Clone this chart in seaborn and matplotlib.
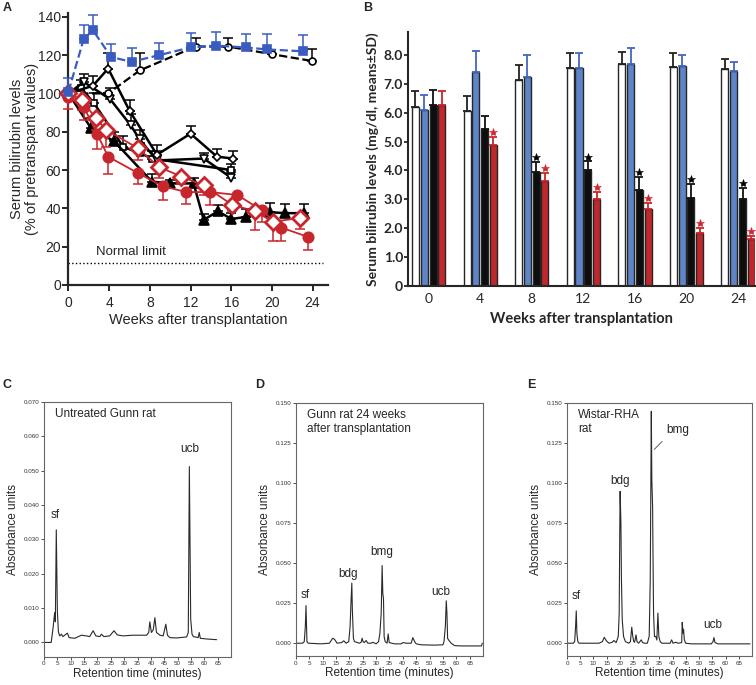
import numpy as np
import pandas as pd
import matplotlib
matplotlib.use("Agg")
import matplotlib.pyplot as plt
import seaborn as sns

# ---------------- panel A: serum bilirubin, % of pretransplant value ----------------
blue_wk = [0, 1.5, 2.4, 4.2, 6.2, 8.9, 12.0, 14.5, 17.5, 19.5, 23.1]
blue_val = [101, 128.5, 133, 119, 116.5, 120, 124, 125, 124, 123, 122]
blue_err = [7, 7, 8, 7, 7, 6.5, 7.5, 7, 7, 8, 8.5]

circ_wk = [0, 3.9, 7.0, 12.5, 15.7, 20.0, 23.9]
circ_val = [100, 100, 112, 124.5, 124.5, 120.5, 117]
circ_err = [0, 0, 9, 4.5, 4.5, 0, 6]

dia_wk = [0, 2.4, 3.9, 6.0, 8.7, 12.0, 14.6, 16.2]
dia_val = [100, 104, 113, 91, 68, 79, 67, 66]
dia_err = [0, 5, 8, 5.5, 5, 4, 4, 4]

tri_wk = [0, 1.5, 4.1, 6.1, 7.0, 8.7, 13.3, 16.0]
tri_val = [100, 106, 97, 83.5, 76, 65, 66, 56]
tri_err = [0, 4, 6, 6, 5, 5, 3, 3]

sq_wk = [0, 1.2, 2.5, 5.4, 7.0, 8.2, 16.0]
sq_val = [100, 103, 95, 72, 69, 66, 60]
sq_err = [0, 4, 5, 6, 5, 4, 3]

ftri_wk = [0, 2.2, 4.5, 8.2, 10.0, 12.3, 13.3, 14.7, 16.0, 17.5, 19.8, 21.3, 23.2]
ftri_val = [100, 82, 75, 54, 53, 53, 34, 38.5, 34.5, 35.5, 38, 37.5, 37.5]
ftri_err = [0, 5, 5, 4, 2, 3, 3, 3, 3, 4, 5, 5, 5]

rcirc_wk = [0, 1.5, 2.8, 3.9, 6.8, 9.3, 11.6, 13.9, 16.6, 19.0, 20.9, 23.6]
rcirc_val = [98, 93, 79, 67, 58.5, 51.5, 48.5, 48.5, 47, 39, 30, 25]
rcirc_err = [6, 7, 8, 9, 6, 7, 6, 7, 6, 6, 7, 7]

rdia_wk = [0, 1.3, 2.7, 3.7, 6.8, 8.9, 11.1, 13.3, 16.1, 18.3, 20.1, 22.8]
rdia_val = [100, 96.5, 87, 81, 71.5, 61.6, 56.6, 52, 41.8, 38.6, 33, 35]
rdia_err = [0, 5, 6, 9, 6, 6, 4, 5, 3, 10, 10, 6]

normal_limit = 11.5

# ---------------- panel B: serum bilirubin, mg/dl ----------------
weeks = ['0', '4', '8', '12', '16', '20', '24']
white_mean = [6.2, 6.05, 7.13, 7.55, 7.67, 7.57, 7.5]
white_sd = [0.55, 0.52, 0.52, 0.5, 0.43, 0.48, 0.34]
blue_mean = [6.1, 7.4, 7.24, 7.55, 7.67, 7.62, 7.44]
blue_sd = [0.5, 0.73, 0.76, 0.52, 0.55, 0.37, 0.32]
black_mean = [6.25, 5.45, 3.96, 4.01, 3.32, 3.03, 3.01]
black_sd = [0.55, 0.43, 0.34, 0.3, 0.46, 0.49, 0.37]
red_mean = [6.25, 4.87, 3.64, 3.0, 2.65, 1.82, 1.62]
red_sd = [0.5, 0.3, 0.26, 0.24, 0.21, 0.2, 0.11]
black_star = [False, False, True, True, True, True, True]
red_star = [False, True, True, True, True, True, True]

# ---------------- panels C-E: HPLC traces (minutes, absorbance) ----------------
trace_c = [(0, 0), (2.7, 0), (3.4, 0.0043), (4.0, 0.0087), (4.25, 0.006), (4.6, 0.0328),
           (5.0, 0.009), (5.4, 0.003), (5.9, 0.0019), (6.5, 0.0024), (7.1, 0.0017),
           (8.75, 0.0027), (9.4, 0.0014), (11.5, 0.0012), (14.0, 0.0021), (15.9, 0.0019),
           (17.1, 0.0017), (18.4, 0.0034), (19.4, 0.0019), (20.9, 0.0017), (21.5, 0.0024),
           (22.4, 0.0017), (24.6, 0.0019), (26.2, 0.0034), (27.4, 0.0022), (29.6, 0.0019),
           (33.4, 0.0021), (38.4, 0.0021), (39.2, 0.0029), (39.6, 0.006), (40.2, 0.0029),
           (40.9, 0.0037), (41.5, 0.0072), (42.1, 0.0029), (43.4, 0.0021), (44.6, 0.0019),
           (45.6, 0.0053), (46.2, 0.0021), (47.1, 0.0014), (49.6, 0.0013), (53.4, 0.0016),
           (54.0, 0.0029), (54.4, 0.0512), (54.9, 0.0068), (55.4, 0.0024), (55.9, 0.0017),
           (57.7, 0.0014), (58.1, 0.0029), (58.5, 0.0012), (60.9, 0.001), (64.6, 0.0008)]

trace_d = [(0, 0), (2.5, 0), (3.1, 0.001), (3.5, 0.0104), (3.75, 0.0235), (4.1, 0.001),
           (4.6, 0), (9.4, -0.0004), (12.5, 0), (13.75, 0.0031), (14.4, 0.0025), (15.4, 0),
           (17.1, 0.0004), (17.9, 0.0015), (18.75, 0), (19.75, 0.001), (20.25, 0.0104),
           (20.6, 0.026), (20.9, 0.0375), (21.1, 0.021), (21.5, 0.003), (21.9, 0.001),
           (23.75, 0), (24.4, 0.0006), (24.75, 0.0031), (25.1, 0.001), (25.6, 0.0004),
           (26.25, 0.0017), (26.9, 0), (28.1, 0), (28.75, 0.0006), (30.0, -0.0004),
           (30.9, 0.001), (31.4, 0.006), (31.9, 0.0187), (32.25, 0.0485), (32.5, 0.031),
           (32.75, 0.028), (33.0, 0.004), (33.4, 0.001), (34.1, 0), (34.5, 0.0058),
           (34.9, 0.0004), (36.9, -0.0004), (39.4, -0.0004), (40.0, 0.0004), (41.25, 0),
           (43.1, 0), (43.75, 0.0035), (44.4, 0.001), (45.0, -0.0004), (46.9, -0.001),
           (51.9, -0.0012), (55.0, -0.001), (55.4, 0.001), (55.9, 0.0104), (56.25, 0.0265),
           (56.5, 0.0187), (56.75, 0.003), (57.25, 0.0017), (58.1, 0), (59.4, -0.0015),
           (61.9, -0.0017), (69.4, -0.0017), (69.75, 0)]

trace_e = [(0, 0), (2.4, 0), (2.9, 0.001), (3.25, 0.0104), (3.5, 0.0202), (3.75, 0.006),
           (4.1, 0.001), (4.6, 0), (12.1, 0), (13.4, 0.001), (14.1, 0.0037), (14.9, 0.0015),
           (15.9, 0), (17.1, 0.0006), (17.75, 0.0017), (18.6, 0.0004), (19.4, 0.0042),
           (19.75, 0.0188), (20.0, 0.0771), (20.1, 0.0948), (20.4, 0.075), (20.6, 0.0396),
           (20.9, 0.0146), (21.4, 0.0042), (22.1, 0.001), (23.4, 0), (24.0, 0.001),
           (24.5, 0.01), (24.9, 0.0042), (25.25, 0.001), (25.6, 0.0006), (26.1, 0.0052),
           (26.5, 0.001), (27.1, 0), (28.1, 0.0021), (28.6, 0.0004), (29.4, 0), (30.4, 0),
           (31.1, 0.0042), (31.5, 0.0396), (31.9, 0.1448), (32.1, 0.102), (32.4, 0.085),
           (32.5, 0.0625), (32.75, 0.0187), (33.1, 0.0042), (33.6, 0.0042), (34.0, 0.002),
           (34.4, 0.0188), (34.75, 0.0042), (35.25, 0.001), (35.9, 0), (39.0, 0),
           (39.6, 0.0021), (40.1, 0), (41.1, 0.0006), (42.1, 0), (43.4, 0.0004),
           (43.6, 0.013), (43.9, 0.0063), (44.1, 0.0087), (44.4, 0.0021), (44.9, 0),
           (47.1, -0.0004), (54.6, -0.0004), (55.25, 0.001), (55.6, 0.0035), (56.0, 0.0004),
           (57.1, -0.0004), (69.25, -0.0004)]

BLUE = '#3a5cc0'
RED = '#c8262d'

sns.set_theme(style="ticks")
plt.rcParams['font.family'] = ['Liberation Sans', 'DejaVu Sans']

fig = plt.figure(figsize=(7.56, 6.85), dpi=100)


def no_clip(container):
    for art in container.get_children():
        art.set_clip_on(False)


def series(ax, wk, val, err, color, marker, ms, mfc, ls='-', lw=1.8, mew=1.2, down=False, z=3):
    zeros = np.zeros(len(err))
    yerr = [err, zeros] if down else [zeros, err]
    eb = ax.errorbar(wk, val, yerr=yerr, fmt='none', ecolor=color, elinewidth=1.1,
                     capsize=3.5, capthick=1.1, zorder=z)
    no_clip(eb)
    sns.lineplot(x=wk, y=val, ax=ax, color=color, linestyle=ls, lw=lw, marker=marker,
                 markersize=ms, markerfacecolor=mfc, markeredgecolor=color,
                 markeredgewidth=mew, estimator=None, sort=False, clip_on=False, zorder=z + 0.5)


# ---------------- A ----------------
ax = fig.add_axes([0.0906, 0.584, 0.343, 0.397])
series(ax, sq_wk, sq_val, sq_err, 'black', 's', 5, 'white', z=3)
series(ax, tri_wk, tri_val, tri_err, 'black', 'v', 6, 'white', z=3)
series(ax, dia_wk, dia_val, dia_err, 'black', 'D', 4.5, 'white', z=3)
series(ax, ftri_wk, ftri_val, ftri_err, 'black', '^', 6.5, 'black', z=3)
series(ax, circ_wk, circ_val, circ_err, 'black', 'o', 5, 'white', ls='--', lw=1.6, z=3)
series(ax, rcirc_wk, rcirc_val, rcirc_err, RED, 'o', 7.5, RED, lw=1.3, down=True, z=4)
series(ax, rdia_wk, rdia_val, rdia_err, RED, 'D', 8, 'white', lw=1.3, mew=2, down=True, z=4)
series(ax, blue_wk, blue_val, blue_err, BLUE, 's', 6, BLUE, ls='--', lw=1.6, z=5)
ax.plot([0, 25], [normal_limit, normal_limit], ls=':', color='black', lw=1)
ax.text(6.1, normal_limit + 2.5, 'Normal limit', ha='center', va='bottom', fontsize=9.5)
ax.set_xlim(0, 25.5)
ax.set_ylim(0, 142)
ax.set_xticks(range(0, 25, 4))
ax.set_yticks(range(0, 141, 20))
ax.tick_params(labelsize=10, width=1.4, length=4, pad=1.5)
ax.tick_params(axis='x', pad=4)
for s in ['left', 'bottom']:
    ax.spines[s].set_linewidth(1.6)
sns.despine(ax=ax)
ax.set_xlabel('Weeks after transplantation', fontsize=10.5, labelpad=2)
ax.set_ylabel('Serum bilirubin levels\n(% of pretranspant values)', fontsize=10.5,
              labelpad=-1, linespacing=1.05)

# ---------------- B ----------------
groups = ['white', 'blue', 'black', 'red']
bar_colors = ['white', '#5f85c9', '#0d0d0d', '#c0282c']
err_colors = ['#222222', '#4466c0', '#111111', '#c8262d']
means = [white_mean, blue_mean, black_mean, red_mean]
sds = [white_sd, blue_sd, black_sd, red_sd]
df = pd.DataFrame({
    'week': weeks * 4,
    'group': np.repeat(groups, len(weeks)),
    'mean': np.concatenate(means),
})

axb = fig.add_axes([0.5397, 0.5825, 0.4585, 0.3712])
sns.barplot(data=df, x='week', y='mean', hue='group', hue_order=groups, order=weeks,
            palette=bar_colors, saturation=1, width=0.68, gap=0.2, edgecolor='#262626',
            linewidth=1, errorbar=None, legend=False, ax=axb)
for cont, sd, ec in zip(axb.containers, sds, err_colors):
    xs = [p.get_x() + p.get_width() / 2 for p in cont]
    hs = [p.get_height() for p in cont]
    axb.errorbar(xs, hs, yerr=[np.zeros(len(sd)), sd], fmt='none', ecolor=ec,
                 elinewidth=1.3, capsize=2.6, capthick=1.3, zorder=3)
for cont, sd, flags, col in [(axb.containers[2], black_sd, black_star, 'black'),
                             (axb.containers[3], red_sd, red_star, '#d0262d')]:
    for p, s, f in zip(cont, sd, flags):
        if f:
            axb.plot(p.get_x() + p.get_width() / 2, p.get_height() + s + 0.17, marker='*',
                     color=col, markeredgecolor=col, markeredgewidth=0.4, markersize=6,
                     zorder=4)
axb.set_xlim(-0.4, 6.32)
axb.set_ylim(0, 8.8)
axb.set_yticks(range(9))
axb.set_yticklabels(['0'] + ['%.1f' % v for v in range(1, 9)], fontweight='bold',
                    family=['Lato', 'DejaVu Sans'])
axb.set_xticks(range(len(weeks)))
axb.set_xticklabels(weeks, family=['Lato', 'DejaVu Sans'])
axb.tick_params(axis='y', labelsize=10, width=1.3, length=3, pad=0.5)
axb.tick_params(axis='x', labelsize=10, length=0, pad=5)
for s in ['left', 'bottom']:
    axb.spines[s].set_linewidth(1.5)
sns.despine(ax=axb)
axb.set_xlabel('Weeks after transplantation', fontsize=10.5, fontweight='bold',
               family=['Lato', 'DejaVu Sans'], labelpad=5)
axb.set_ylabel('Serum bilirubin levels (mg/dl, means\u00b1SD)', fontsize=10,
               fontweight='bold', family=['Lato', 'DejaVu Sans'], labelpad=3)

# ---------------- C, D, E ----------------
hplc = [
    ([0.0582, 0.0416, 0.2474, 0.3715], trace_c, (-0.0041, 0.070), 0.010,
     'Untreated Gunn rat', [('sf', 4.2, 0.0355), ('ucb', 54.5, 0.0545)]),
    ([0.3915, 0.0423, 0.2474, 0.3694], trace_d, (-0.008, 0.150), 0.025,
     'Gunn rat 24 weeks\nafter transplantation',
     [('sf', 3.3, 0.0265), ('bdg', 19.3, 0.0395), ('bmg', 32.2, 0.0535), ('ucb', 54.0, 0.0285)]),
    ([0.75, 0.0423, 0.2447, 0.3694], trace_e, (-0.008, 0.150), 0.025,
     'Wistar-RHA\nrat',
     [('sf', 3.6, 0.0255), ('bdg', 20.2, 0.0975), ('bmg', 42.0, 0.1295), ('ucb', 55.0, 0.0075)]),
]
for pos, trace, ylim, step, title, labels in hplc:
    axc = fig.add_axes(pos)
    t = [p[0] for p in trace]
    a = [p[1] for p in trace]
    sns.lineplot(x=t, y=a, ax=axc, color='#2a2a2a', lw=0.8, estimator=None, sort=False)
    axc.set_xlim(0, 70)
    axc.set_ylim(*ylim)
    axc.set_xticks(range(0, 66, 5))
    axc.set_yticks(np.arange(0, ylim[1] + 1e-9, step))
    axc.yaxis.set_major_formatter(matplotlib.ticker.FormatStrFormatter('%.3f'))
    axc.tick_params(labelsize=4.5, length=2, width=0.6, pad=1.5, colors='#333333')
    for s in axc.spines.values():
        s.set_linewidth(0.8)
        s.set_color('#666666')
    axc.text(0.06, 0.975, title, transform=axc.transAxes, ha='left', va='top',
             fontsize=8.5, linespacing=1.15)
    for lab, lx, ly in labels:
        axc.text(lx, ly, lab, ha='center', va='bottom', fontsize=8.5)
    axc.set_xlabel('Retention time (minutes)', fontsize=8.5, labelpad=1)
    axc.set_ylabel('Absorbance units', fontsize=8.5, labelpad=3)
    if title.startswith('Wistar'):
        axc.plot([36.0, 33.0], [0.126, 0.121], color='#444444', lw=0.6)

# panel letters
for letter, x, y in [('A', 0.004, 0.997), ('B', 0.48, 0.997), ('C', 0.003, 0.447),
                     ('D', 0.337, 0.447), ('E', 0.697, 0.447)]:
    fig.text(x, y, letter, fontsize=9, fontweight='bold', ha='left', va='top')

fig.savefig('out.png', dpi=100)
